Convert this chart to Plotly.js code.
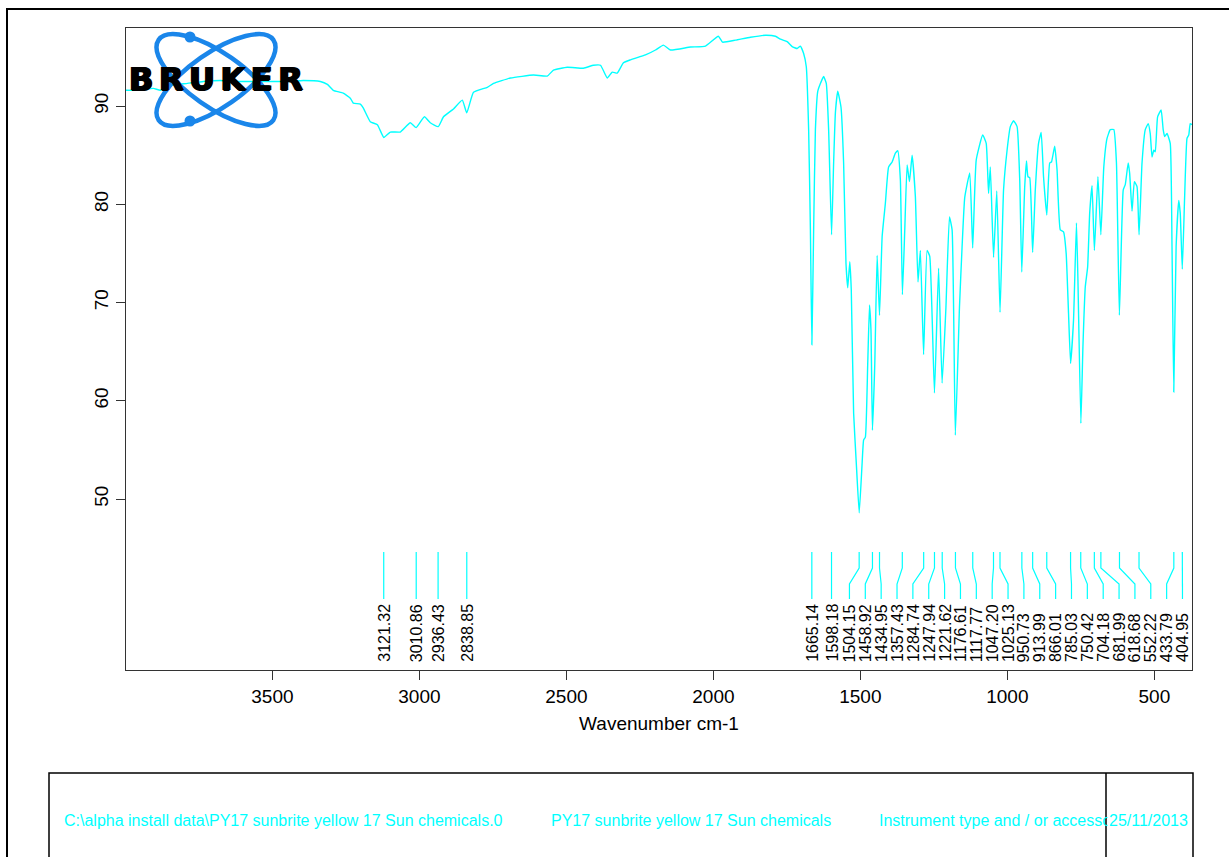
<!DOCTYPE html>
<html>
<head>
<meta charset="utf-8">
<script src="https://cdn.plot.ly/plotly-3.0.1.min.js"></script>
<style>html,body{margin:0;padding:0;background:#fff;}#chart{width:1229px;height:857px;}</style>
</head>
<body>
<div id="chart"></div>
<script>
// ---------------- data ----------------
const wavenumber = [3998,3949,3905,3881,3847,3789,3735,3677,3619,3565,3507,3449,3395,3337,3313,3293,3259,3235,3225,3201,3191,3167,3143,3121,3099,3065,3031,3011,2983,2963,2936,2918,2884,2854,2839,2816,2769,2748,2690,2612,2565,2544,2497,2442,2408,2384,2361,2344,2327,2306,2282,2231,2197,2170,2146,2078,2027,1983,1969,1925,1874,1823,1789,1772,1749,1732,1715,1704,1693,1684,1676,1670,1665,1659,1653,1645,1636,1625,1616,1608,1598,1591,1585,1577,1566,1557,1549,1543,1536,1531,1523,1514,1504,1494,1489,1483,1475,1469,1464,1459,1451,1443,1435,1426,1415,1404,1392,1381,1373,1364,1357,1349,1341,1333,1324,1313,1304,1296,1285,1273,1264,1248,1234,1222,1209,1197,1188,1177,1163,1154,1145,1128,1118,1106,1084,1072,1064,1058,1047,1036,1025,1013,1001,990,979,967,958,951,941,935,930,924,914,905,894,885,877,866,856,850,839,831,820,809,800,792,785,775,765,760,750,743,735,727,720,712,704,692,682,672,661,650,638,629,619,606,599,589,584,576,568,559,552,542,531,521,514,508,502,497,489,477,470,465,457,446,440,434,426,417,412,405,397,389,383,378,372];
const transmittance = [91.6,91.6,91.8,91.6,92.1,92.3,92.5,92.6,92.5,92.5,92.5,92.5,92.6,92.5,92.2,91.6,91.3,90.8,90.3,90.2,89.8,88.4,88.1,86.8,87.35,87.35,88.3,87.8,88.9,88.3,87.9,88.9,89.7,90.6,89.3,91.4,91.9,92.3,92.85,93.15,93.05,93.65,93.95,93.85,94.15,94.15,92.85,93.45,93.35,94.4,94.7,95.2,95.7,96.2,95.7,96.0,96.1,97.1,96.5,96.7,97.0,97.2,97.1,96.8,96.55,96.05,95.85,96.1,95.35,94.0,87.6,77.4,65.7,77.4,87.6,91.5,92.3,93.0,92.3,87.6,76.9,84.2,89.3,91.5,89.9,84.2,74.0,71.5,74.15,71.3,58.75,53.7,48.6,53.7,56.0,56.3,63.8,69.75,67.2,57.0,63.8,74.8,68.7,76.7,80.1,83.8,84.3,85.2,85.45,82.5,70.8,77.4,84.0,82.3,85.0,80.8,72.1,75.3,64.7,75.3,74.7,60.8,73.5,61.8,69.5,78.7,77.4,56.5,69.5,75.7,80.7,83.2,75.55,84.5,87.05,86.2,81.1,83.8,74.6,81.35,69.0,81.45,85.5,87.9,88.5,87.9,82.5,73.1,81.8,84.4,82.8,82.7,75.1,81.45,86.2,87.3,82.8,78.9,84.2,84.3,85.9,83.5,77.4,77.2,75.0,68.9,63.8,68.2,78.1,72.3,57.7,65.5,71.6,73.6,79.1,81.9,75.3,82.8,76.9,83.8,86.7,87.6,87.6,84.2,68.7,81.45,82.0,84.2,83.15,79.3,82.3,81.8,76.9,84.2,87.6,88.2,87.2,84.8,85.5,85.35,88.9,89.6,87.6,86.9,87.2,86.2,75.7,60.9,75.7,80.4,79.1,73.4,80.8,86.7,87.05,88.2,88.1];
const peakWavenumbers = [3121.32,3010.86,2936.43,2838.85,1665.14,1598.18,1504.15,1458.92,1434.95,1357.43,1284.74,1247.94,1221.62,1176.61,1117.77,1047.20,1025.13,950.73,913.99,866.01,785.03,750.42,704.18,681.99,618.68,552.22,433.79,404.95];
const xTickValues = [3500,3000,2500,2000,1500,1000,500];
const yTickValues = [50,60,70,80,90];
const xAxisTitle = "Wavenumber cm-1";
const logoText = "BRUKER";
const footerPath = "C:\\alpha install data\\PY17 sunbrite yellow 17 Sun chemicals.0";
const footerSample = "PY17 sunbrite yellow 17 Sun chemicals";
const footerInstrument = "Instrument type and / or accesso";
const footerDate = "25/11/2013";

// ---------------- layout geometry ----------------
const W = 1229, H = 857;
const M = {l: 126, r: 37, t: 28, b: 187};
const PW = W - M.l - M.r, PH = H - M.t - M.b;
const xRange = [3998, 372];
const yRange = [32.6, 97.94];
const px2x = p => (p - M.l) / PW;          // pixel -> paper
const py2y = p => (H - M.b - p) / PH;
const pyToData = p => yRange[0] + (H - M.b - p) / PH * (yRange[1] - yRange[0]);
const cmPerPx = (xRange[0] - xRange[1]) / PW;

const CYAN = '#00FFFF';
const FONT = 'Liberation Sans, Arial, sans-serif';

// ---------------- peak label spreading (push right, then pull back from right limit) ----------------
function spread(pos, gap, maxPos) {
  const out = pos.slice();
  for (let i = 1; i < out.length; i++) out[i] = Math.max(out[i], out[i - 1] + gap);
  out[out.length - 1] = Math.min(out[out.length - 1], maxPos);
  for (let i = out.length - 2; i >= 0; i--) out[i] = Math.min(out[i], out[i + 1] - gap);
  return out;
}
const gapCm = 15.86 * cmPerPx;
const rightLimit = -(xRange[1] + 9.5 * cmPerPx);
const labelPos = spread(peakWavenumbers.map(w => -w), gapCm, rightLimit).map(v => -v);

const yTop = pyToData(552), yB1 = pyToData(568), yB2 = pyToData(584), yBot = pyToData(599);
const connX = [], connY = [];
peakWavenumbers.forEach((w, i) => {
  connX.push(w, w, labelPos[i], labelPos[i], null);
  connY.push(yTop, yB1, yB2, yBot, null);
});

const traces = [
  {x: wavenumber, y: transmittance, type: 'scatter', mode: 'lines',
   line: {color: CYAN, width: 1.4, shape: 'spline', smoothing: 0.4}, hoverinfo: 'skip'},
  {x: connX, y: connY, type: 'scatter', mode: 'lines',
   line: {color: CYAN, width: 1.2}, hoverinfo: 'skip'}
];

const annotations = peakWavenumbers.map((w, i) => ({
  x: labelPos[i], y: pyToData(663), xref: 'x', yref: 'y',
  text: w.toFixed(2), showarrow: false, textangle: -90,
  xanchor: 'center', yanchor: 'bottom', borderpad: 0,
  font: {family: FONT, size: 16, color: '#000'}
}));

// logo text
annotations.push({
  xref: 'paper', yref: 'paper', x: px2x(218), y: py2y(79),
  xanchor: 'center', yanchor: 'middle', showarrow: false,
  text: '<span style="letter-spacing:5.5px">' + logoText + '</span>',
  font: {family: 'DejaVu Sans, sans-serif', size: 32, color: '#000', weight: 'bold',
         shadow: '1px 0 0 #000, -1px 0 0 #000, 0 1px 0 #000'}
});

// footer texts
[[footerPath, 62], [footerSample, 549], [footerInstrument, 877]].forEach(([t, px]) => {
  annotations.push({
    xref: 'paper', yref: 'paper', x: px2x(px), y: py2y(820),
    xanchor: 'left', yanchor: 'middle', showarrow: false, text: t,
    font: {family: FONT, size: 16, color: CYAN}
  });
});
// date cell (white background hides the overflow of the previous cell)
annotations.push({
  xref: 'paper', yref: 'paper', x: px2x(1107), y: py2y(820),
  xanchor: 'left', yanchor: 'middle', showarrow: false, text: footerDate,
  bgcolor: '#fff', borderpad: 1,
  font: {family: FONT, size: 16, color: CYAN}
});

// logo atom graphic (decoration)
const lw = 132, lh = 104, lx = 150, ly = 28;
const cx = 66, cy = 52;
const svg = `<svg xmlns="http://www.w3.org/2000/svg" width="${lw}" height="${lh}" viewBox="0 0 ${lw} ${lh}">` +
  `<g fill="none" stroke="#1a86ea" stroke-width="4.5">` +
  `<ellipse cx="${cx}" cy="${cy}" rx="70" ry="27" transform="rotate(35 ${cx} ${cy})"/>` +
  `<ellipse cx="${cx}" cy="${cy}" rx="70" ry="27" transform="rotate(-35 ${cx} ${cy})"/></g>` +
  `<circle cx="40" cy="9" r="5.5" fill="#1a86ea"/><circle cx="40" cy="93" r="5.5" fill="#1a86ea"/></svg>`;
const images = [{
  source: 'data:image/svg+xml;charset=utf-8,' + encodeURIComponent(svg),
  xref: 'paper', yref: 'paper', x: px2x(lx), y: py2y(ly),
  sizex: lw / PW, sizey: lh / PH, xanchor: 'left', yanchor: 'top',
  sizing: 'stretch', layer: 'above'
}];

const shapes = [
  // outer page frame (top and left edges)
  {type: 'line', xref: 'paper', yref: 'paper', x0: px2x(6), x1: px2x(1235), y0: py2y(9), y1: py2y(9),
   line: {color: '#000', width: 2}},
  {type: 'line', xref: 'paper', yref: 'paper', x0: px2x(7), x1: px2x(7), y0: py2y(8), y1: py2y(920),
   line: {color: '#000', width: 2}},
  // footer box
  {type: 'rect', xref: 'paper', yref: 'paper', x0: px2x(49), x1: px2x(1193), y0: py2y(773), y1: py2y(920),
   line: {color: '#000', width: 1.5}, fillcolor: 'rgba(0,0,0,0)'},
  {type: 'line', xref: 'paper', yref: 'paper', x0: px2x(1106), x1: px2x(1106), y0: py2y(773), y1: py2y(920),
   line: {color: '#000', width: 1.5}}
];

const layout = {
  width: W, height: H,
  margin: M,
  paper_bgcolor: '#fff', plot_bgcolor: '#fff',
  showlegend: false,
  font: {family: FONT, size: 19, color: '#000'},
  xaxis: {
    range: xRange, autorange: false, tickvals: xTickValues, ticktext: xTickValues.map(String),
    ticks: 'outside', ticklen: 9, tickcolor: '#333', showline: true, mirror: true,
    linecolor: '#333', linewidth: 1, showgrid: false, zeroline: false,
    tickfont: {family: FONT, size: 19, color: '#000'},
    title: {text: xAxisTitle, font: {family: FONT, size: 19, color: '#000'}, standoff: 10}
  },
  yaxis: {
    range: yRange, autorange: false, tickvals: yTickValues, ticktext: yTickValues.map(String),
    ticks: 'outside', ticklen: 9, tickcolor: '#333', showline: true, mirror: true,
    linecolor: '#333', linewidth: 1, showgrid: false, zeroline: false, tickangle: -90,
    tickfont: {family: FONT, size: 19, color: '#000'}
  },
  annotations, shapes, images
};

Plotly.newPlot('chart', traces, layout, {displayModeBar: false, staticPlot: true});
</script>
</body>
</html>
